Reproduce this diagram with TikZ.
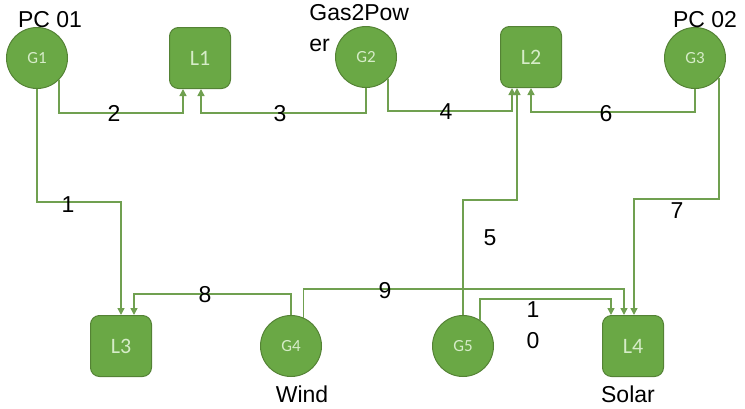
\documentclass[tikz,border=0pt]{standalone}
\usepackage{fontspec}
\setmainfont{Liberation Sans}
\newfontfamily\nodefont{Carlito}
\usetikzlibrary{arrows.meta}
\definecolor{gfill}{RGB}{106,168,69}
\definecolor{gborder}{RGB}{84,130,53}
\definecolor{gtext}{RGB}{214,236,200}
\definecolor{gline}{RGB}{112,160,80}
\tikzset{every picture/.style={line width=0.75pt}}
\tikzset{
    gen/.style={circle, fill=gfill, draw=gborder, line width=1pt, minimum size=61pt, inner sep=0pt,
        text=gtext, font=\nodefont\fontsize{17}{20}\selectfont},
    load/.style={rectangle, rounded corners=9pt, fill=gfill, draw=gborder, line width=1pt, minimum size=61pt, inner sep=0pt,
        text=gtext, font=\nodefont\fontsize{22}{26}\selectfont},
    link/.style={draw=gline, line width=1.5pt, -{Triangle[width=7pt,length=7pt]}},
    lbl/.style={font=\fontsize{23}{31}\selectfont, text=black, inner sep=0pt}
}

\begin{document}
\begin{tikzpicture}[x=1pt, y=-1pt]
    \useasboundingbox (0,0) rectangle (745,408);

    % Generators and loads
    \node[gen] (G1) at (37,58) {G1};
    \node[load] (L1) at (200,58) {L1};
    \node[gen] (G2) at (366,57) {G2};
    \node[load] (L2) at (531,57) {L2};
    \node[gen] (G3) at (695,58) {G3};
    \node[load] (L3) at (121,346) {L3};
    \node[gen] (G4) at (291,346) {G4};
    \node[gen] (G5) at (463,346) {G5};
    \node[load] (L4) at (633,346) {L4};

    % Names
    \node[lbl, anchor=base] (pc1) at (50,27) {PC 01};
    \node[lbl, anchor=north west, align=left] (gas) at (309,4) {Gas2Pow\\er};
    \node[lbl, anchor=base] (pc2) at (705,27) {PC 02};
    \node[lbl, anchor=base] (wind) at (302,402) {Wind};
    \node[lbl, anchor=base] (solar) at (628,402) {Solar};

    % Lines
    \draw[link] (G1.south) |- ([yshift=113pt]L3.north) -- (L3.north);
    \draw[link] (G1.-45) |- ([xshift=-17pt,yshift=-24pt]L1.south) -- ([xshift=-17pt]L1.south);
    \draw[link] (G2.south) |- ([xshift=1pt,yshift=-24pt]L1.south) -- ([xshift=1pt]L1.south);
    \draw[link] (G2.-45) |- ([xshift=-19pt,yshift=-23pt]L2.south) -- ([xshift=-19pt]L2.south);
    \draw[link] (G5.north) |- ([xshift=-14pt,yshift=-112pt]L2.south) -- ([xshift=-14pt]L2.south);
    \draw[link] (G3.south) |- ([yshift=-24pt]L2.south) -- (L2.south);
    \draw[link] (G3.-40) |- ([xshift=1pt,yshift=116pt]L4.north) -- ([xshift=1pt]L4.north);
    \draw[link] (G4.north) |- ([xshift=13pt,yshift=21pt]L3.north) -- ([xshift=13pt]L3.north);
    \draw[link] (G4.66) |- ([xshift=-9pt,yshift=26pt]L4.north) -- ([xshift=-9pt]L4.north);
    \draw[link] (G5.57) |- ([xshift=-22pt,yshift=16pt]L4.north) -- ([xshift=-22pt]L4.north);

    % Line numbers
    \node[lbl] (n1) at (68,205) {1};
    \node[lbl] (n2) at (114,113) {2};
    \node[lbl] (n3) at (280,114) {3};
    \node[lbl] (n4) at (446,112) {4};
    \node[lbl] (n5) at (490,238) {5};
    \node[lbl] (n6) at (606,114) {6};
    \node[lbl] (n7) at (677,211) {7};
    \node[lbl] (n8) at (205,295) {8};
    \node[lbl] (n9) at (385,291) {9};
    \node[lbl, align=center] (n10) at (533,325) {1\\0};
\end{tikzpicture}
\end{document}
